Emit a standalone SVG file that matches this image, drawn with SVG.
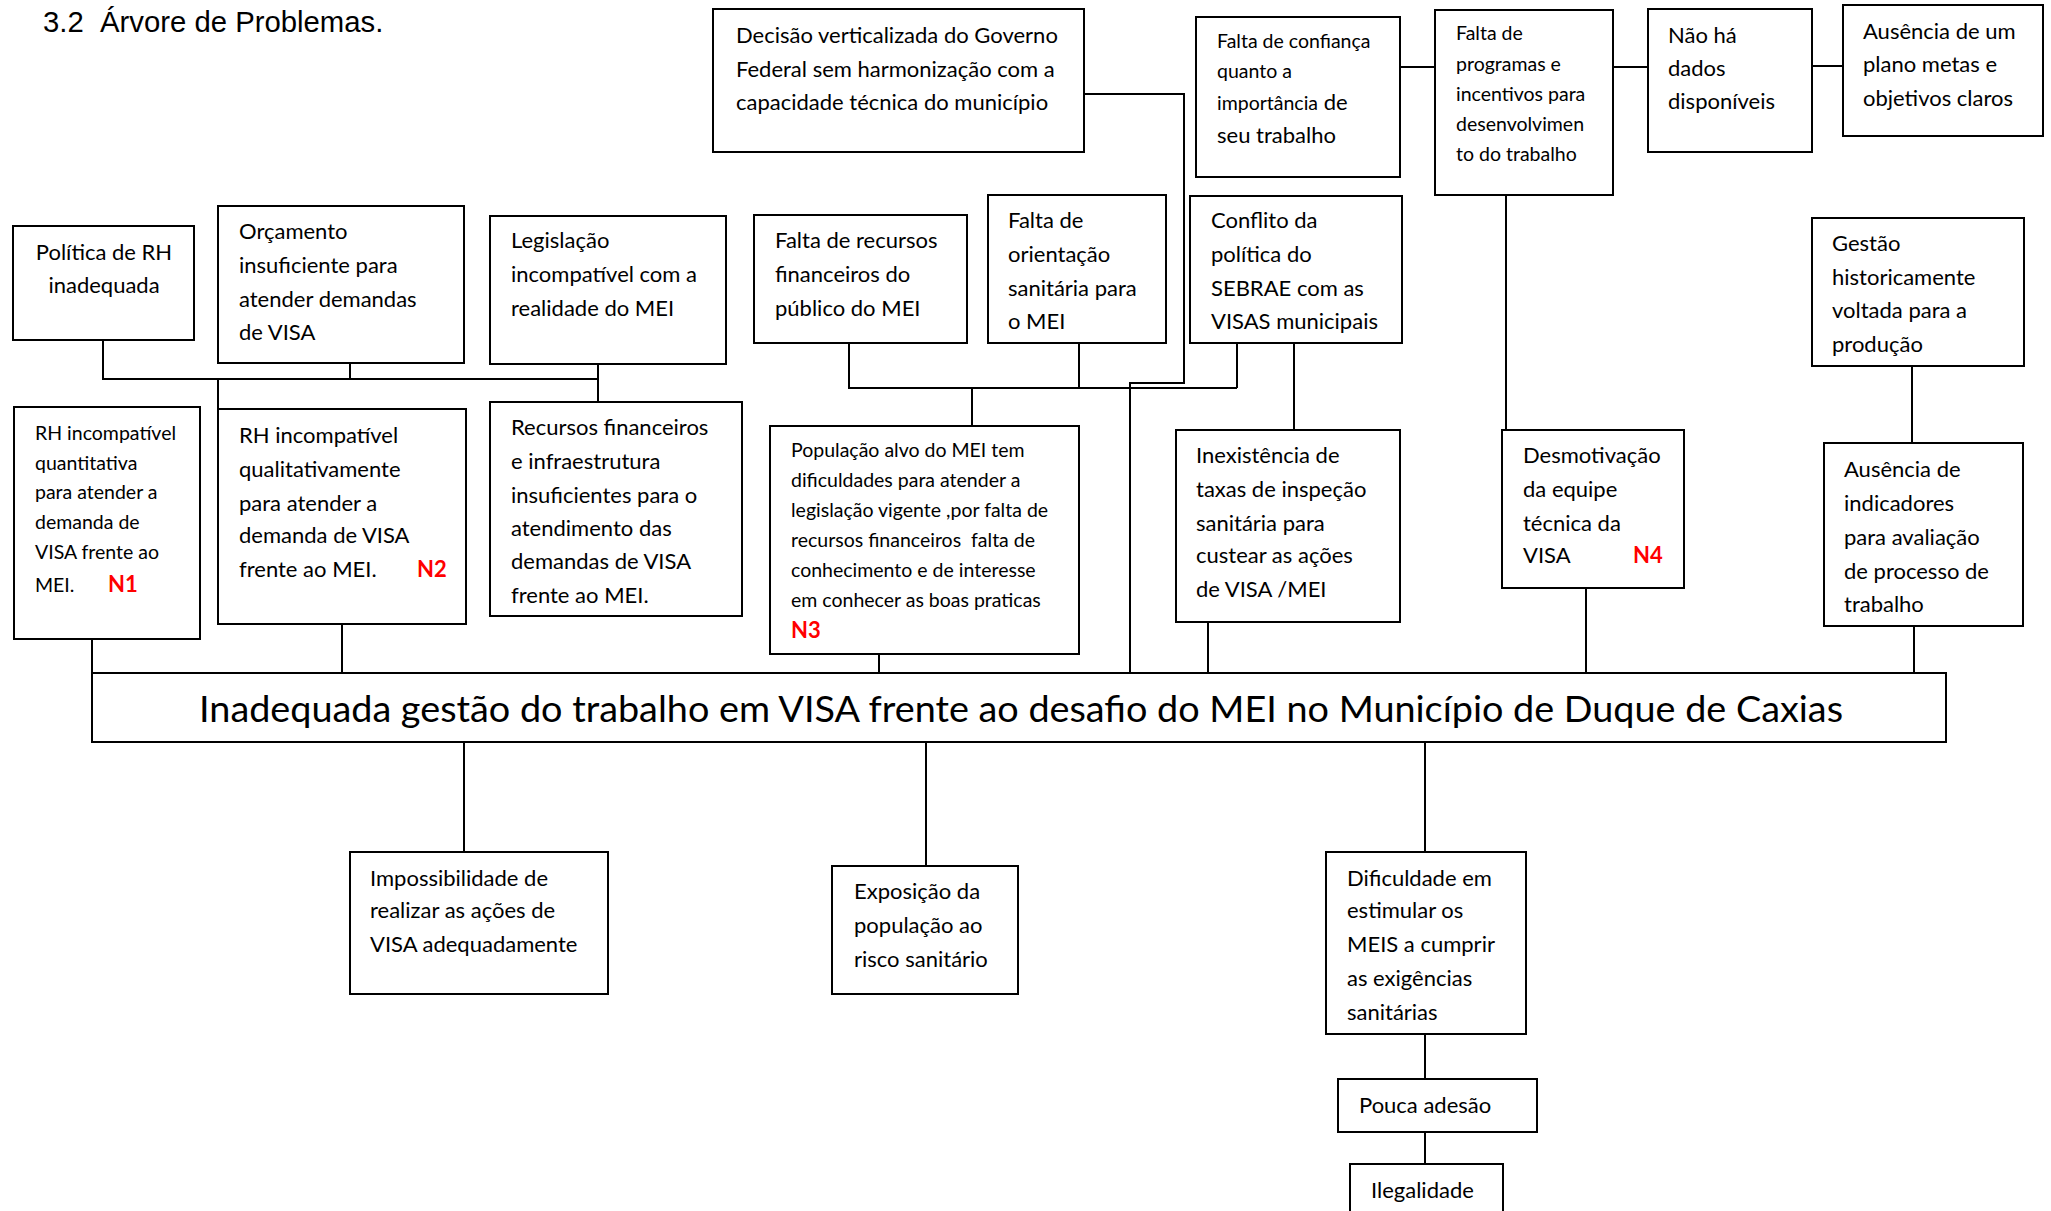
<svg xmlns="http://www.w3.org/2000/svg" width="2051" height="1211" viewBox="0 0 2051 1211">
<style>
.bg{fill:#fff}
.box{fill:#fff;stroke:#000;stroke-width:2}
.c{fill:none;stroke:#000;stroke-width:2}
.t{font-family:Lato,"Liberation Sans",sans-serif;font-size:22px;fill:#000}
.s{font-size:19.5px}
.n{font-weight:bold;fill:#ff0000;font-size:22px}
.title{font-family:"Liberation Sans",Arial,sans-serif;font-size:29.3px;fill:#000}
.main{font-family:Lato,"Liberation Sans",sans-serif;font-size:37px;fill:#000}
</style>
<rect class="bg" x="0" y="0" width="2051" height="1211"/>
<text class="title" x="43" y="32">3.2&#160; Árvore de Problemas.</text>

<g id="connectors">
<path class="c" d="M103,340 V379 H598 M350,363 V379 M598,364 V402 M218,379 V409"/>
<path class="c" d="M92,639 V673 M342,624 V673"/>
<path class="c" d="M849,343 V388 H1237 M1079,343 V388 M1237,343 V388 M972,388 V426"/>
<path class="c" d="M1084,94 H1184 V383 H1130 V673"/>
<path class="c" d="M1294,343 V430 M879,654 V673 M1208,622 V673"/>
<path class="c" d="M1400,67 H1435 M1613,67 H1648 M1812,66 H1843 M1506,195 V430 M1586,588 V673"/>
<path class="c" d="M1912,366 V443 M1914,626 V673"/>
<path class="c" d="M464,742 V852 M926,742 V866 M1425,742 V852 M1425,1034 V1079 M1425,1132 V1164"/>
</g>

<g id="n-politica">
<rect class="box" x="13" y="226" width="181" height="114"/>
<text class="t" text-anchor="middle"><tspan x="104" y="260">Política de RH</tspan><tspan x="104" y="293">inadequada</tspan></text>
</g>
<g id="n-orcamento">
<rect class="box" x="218" y="206" width="246" height="157"/>
<text class="t"><tspan x="239" y="239">Orçamento</tspan><tspan x="239" y="273">insuficiente para</tspan><tspan x="239" y="307">atender demandas</tspan><tspan x="239" y="340">de VISA</tspan></text>
</g>
<g id="n-legislacao">
<rect class="box" x="490" y="216" width="236" height="148"/>
<text class="t"><tspan x="511" y="248">Legislação</tspan><tspan x="511" y="282">incompatível com a</tspan><tspan x="511" y="316">realidade do MEI</tspan></text>
</g>
<g id="n-decisao">
<rect class="box" x="713" y="9" width="371" height="143"/>
<text class="t"><tspan x="736" y="43">Decisão verticalizada do Governo</tspan><tspan x="736" y="77">Federal sem harmonização com a</tspan><tspan x="736" y="110">capacidade técnica do município</tspan></text>
</g>
<g id="n-confianca">
<rect class="box" x="1196" y="17" width="204" height="160"/>
<text class="t"><tspan class="s" x="1217" y="48">Falta de confiança</tspan><tspan class="s" x="1217" y="78">quanto a</tspan><tspan class="s" x="1217" y="110">importância</tspan><tspan> de</tspan><tspan x="1217" y="143">seu trabalho</tspan></text>
</g>
<g id="n-programas">
<rect class="box" x="1435" y="10" width="178" height="185"/>
<text class="t s"><tspan x="1456" y="40">Falta de</tspan><tspan x="1456" y="71">programas e</tspan><tspan x="1456" y="101">incentivos para</tspan><tspan x="1456" y="131">desenvolvimen</tspan><tspan x="1456" y="161">to do trabalho</tspan></text>
</g>
<g id="n-naoha">
<rect class="box" x="1648" y="9" width="164" height="143"/>
<text class="t"><tspan x="1668" y="43">Não há</tspan><tspan x="1668" y="76">dados</tspan><tspan x="1668" y="109">disponíveis</tspan></text>
</g>
<g id="n-plano">
<rect class="box" x="1843" y="5" width="200" height="131"/>
<text class="t"><tspan x="1863" y="39">Ausência de um</tspan><tspan x="1863" y="72">plano metas e</tspan><tspan x="1863" y="106">objetivos claros</tspan></text>
</g>
<g id="n-recursos-publico">
<rect class="box" x="754" y="215" width="213" height="128"/>
<text class="t"><tspan x="775" y="248">Falta de recursos</tspan><tspan x="775" y="282">financeiros do</tspan><tspan x="775" y="316">público do MEI</tspan></text>
</g>
<g id="n-orientacao">
<rect class="box" x="988" y="195" width="178" height="148"/>
<text class="t"><tspan x="1008" y="228">Falta de</tspan><tspan x="1008" y="262">orientação</tspan><tspan x="1008" y="296">sanitária para</tspan><tspan x="1008" y="329">o MEI</tspan></text>
</g>
<g id="n-conflito">
<rect class="box" x="1190" y="196" width="212" height="147"/>
<text class="t"><tspan x="1211" y="228">Conflito da</tspan><tspan x="1211" y="262">política do</tspan><tspan x="1211" y="296">SEBRAE com as</tspan><tspan x="1211" y="329">VISAS municipais</tspan></text>
</g>
<g id="n-gestao">
<rect class="box" x="1812" y="218" width="212" height="148"/>
<text class="t"><tspan x="1832" y="251">Gestão</tspan><tspan x="1832" y="285">historicamente</tspan><tspan x="1832" y="318">voltada para a</tspan><tspan x="1832" y="352">produção</tspan></text>
</g>
<g id="n-rh-quant">
<rect class="box" x="14" y="407" width="186" height="232"/>
<text class="t s"><tspan x="35" y="440">RH incompatível</tspan><tspan x="35" y="470">quantitativa</tspan><tspan x="35" y="499">para atender a</tspan><tspan x="35" y="529">demanda de</tspan><tspan x="35" y="559">VISA frente ao</tspan><tspan x="35" y="592">MEI.</tspan></text>
<text class="t n" x="108" y="592">N1</text>
</g>
<g id="n-rh-quali">
<rect class="box" x="218" y="409" width="248" height="215"/>
<text class="t"><tspan x="239" y="443">RH incompatível</tspan><tspan x="239" y="477">qualitativamente</tspan><tspan x="239" y="511">para atender a</tspan><tspan x="239" y="543">demanda de VISA</tspan><tspan x="239" y="577">frente ao MEI.</tspan></text>
<text class="t n" x="417" y="577">N2</text>
</g>
<g id="n-recursos-infra">
<rect class="box" x="490" y="402" width="252" height="214"/>
<text class="t"><tspan x="511" y="435">Recursos financeiros</tspan><tspan x="511" y="469">e infraestrutura</tspan><tspan x="511" y="503">insuficientes para o</tspan><tspan x="511" y="536">atendimento das</tspan><tspan x="511" y="569">demandas de VISA</tspan><tspan x="511" y="603">frente ao MEI.</tspan></text>
</g>
<g id="n-populacao">
<rect class="box" x="770" y="426" width="309" height="228"/>
<text class="t s"><tspan x="791" y="457">População alvo do MEI tem</tspan><tspan x="791" y="487">dificuldades para atender a</tspan><tspan x="791" y="517">legislação vigente ,por falta de</tspan><tspan x="791" y="547">recursos financeiros&#160; falta de</tspan><tspan x="791" y="577">conhecimento e de interesse</tspan><tspan x="791" y="607">em conhecer as boas praticas</tspan></text>
<text class="t n" x="791" y="638">N3</text>
</g>
<g id="n-inexistencia">
<rect class="box" x="1176" y="430" width="224" height="192"/>
<text class="t"><tspan x="1196" y="463">Inexistência de</tspan><tspan x="1196" y="497">taxas de inspeção</tspan><tspan x="1196" y="531">sanitária para</tspan><tspan x="1196" y="563">custear as ações</tspan><tspan x="1196" y="597">de VISA /MEI</tspan></text>
</g>
<g id="n-desmotivacao">
<rect class="box" x="1502" y="430" width="182" height="158"/>
<text class="t"><tspan x="1523" y="463">Desmotivação</tspan><tspan x="1523" y="497">da equipe</tspan><tspan x="1523" y="531">técnica da</tspan><tspan x="1523" y="563">VISA</tspan></text>
<text class="t n" x="1633" y="563">N4</text>
</g>
<g id="n-indicadores">
<rect class="box" x="1824" y="443" width="199" height="183"/>
<text class="t"><tspan x="1844" y="477">Ausência de</tspan><tspan x="1844" y="511">indicadores</tspan><tspan x="1844" y="545">para avaliação</tspan><tspan x="1844" y="579">de processo de</tspan><tspan x="1844" y="612">trabalho</tspan></text>
</g>
<g id="n-main">
<rect class="box" x="92" y="673" width="1854" height="69"/>
<text class="main" x="199" y="722" textLength="1644" lengthAdjust="spacingAndGlyphs">Inadequada gestão do trabalho em VISA frente ao desafio do MEI no Município de Duque de Caxias</text>
</g>
<g id="n-impossibilidade">
<rect class="box" x="350" y="852" width="258" height="142"/>
<text class="t"><tspan x="370" y="886">Impossibilidade de</tspan><tspan x="370" y="918">realizar as ações de</tspan><tspan x="370" y="952">VISA adequadamente</tspan></text>
</g>
<g id="n-exposicao">
<rect class="box" x="832" y="866" width="186" height="128"/>
<text class="t"><tspan x="854" y="899">Exposição da</tspan><tspan x="854" y="933">população ao</tspan><tspan x="854" y="967">risco sanitário</tspan></text>
</g>
<g id="n-dificuldade">
<rect class="box" x="1326" y="852" width="200" height="182"/>
<text class="t"><tspan x="1347" y="886">Dificuldade em</tspan><tspan x="1347" y="918">estimular os</tspan><tspan x="1347" y="952">MEIS a cumprir</tspan><tspan x="1347" y="986">as exigências</tspan><tspan x="1347" y="1020">sanitárias</tspan></text>
</g>
<g id="n-pouca">
<rect class="box" x="1338" y="1079" width="199" height="53"/>
<text class="t" x="1359" y="1113">Pouca adesão</text>
</g>
<g id="n-ilegalidade">
<rect class="box" x="1350" y="1164" width="153" height="60"/>
<text class="t" x="1371" y="1198">Ilegalidade</text>
</g>
</svg>
